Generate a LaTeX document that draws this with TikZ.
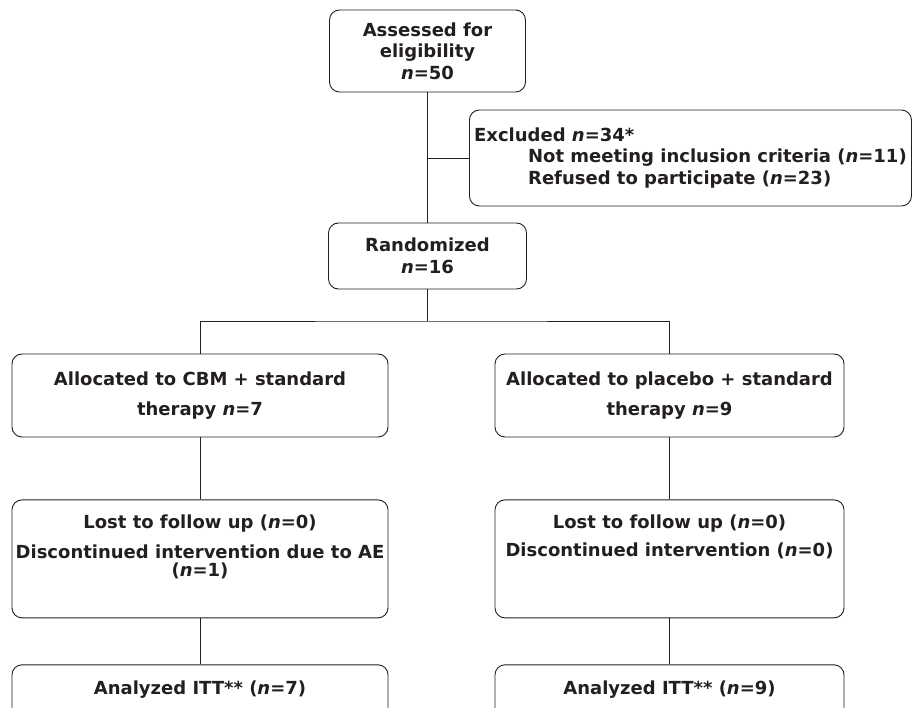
\documentclass[tikz,border=0pt]{standalone}
\usepackage{fontspec}
\setmainfont{DejaVu Sans}
\usepackage{tikz}
\usetikzlibrary{positioning}
\definecolor{inkgray}{RGB}{35,31,32}

\begin{document}
\begin{tikzpicture}[
  x=1pt, y=-1pt,
  node distance=62pt and 0pt,
  flowbox/.style={rectangle, rounded corners=10pt, draw=inkgray, line width=0.9pt, align=center, inner xsep=2pt, text=inkgray, font=\fontsize{18}{21.5}\selectfont\bfseries},
  armbox/.style={flowbox, minimum height=83pt},
  link/.style={draw=inkgray, line width=0.9pt},
]
  \useasboundingbox (0,0) rectangle (913,708);

  \node[flowbox, minimum width=196pt, minimum height=82pt] (assess) at (427.5,51) {Assessed for\\eligibility\\\textit{n}=50};
  \node[flowbox, anchor=west, minimum width=442pt, minimum height=96pt, align=left] (excl) at (469,158) {Excluded \textit{n}=34*\\\hspace*{54pt}Not meeting inclusion criteria (\textit{n}=11)\\\hspace*{54pt}Refused to participate (\textit{n}=23)};
  \node[flowbox, minimum width=198pt, minimum height=66pt] (rand) at (427.5,256) {Randomized\\\textit{n}=16};

  \node[armbox, minimum width=376pt] (cbm) at (200,395.5) {Allocated to CBM + standard\\[9pt]therapy \textit{n}=7};
  \node[armbox, minimum width=349pt] (plac) at (669.5,395.5) {Allocated to placebo + standard\\[9pt]therapy \textit{n}=9};

  \node[flowbox, minimum width=376pt, minimum height=118pt, below=of cbm] (lostcbm) {Lost to follow up (\textit{n}=0)\\[9pt]Discontinued intervention due to AE\\[-4pt](\textit{n}=1)\\[5pt]\mbox{}};
  \node[flowbox, minimum width=349pt, minimum height=118pt, below=of plac] (lostplac) {Lost to follow up (\textit{n}=0)\\[6pt]Discontinued intervention (\textit{n}=0)\\[25pt]\mbox{}};

  \node[flowbox, minimum width=376pt, minimum height=80pt, below=46pt of lostcbm] (ittcbm) {Analyzed ITT** (\textit{n}=7)\\[12pt]\mbox{}};
  \node[flowbox, minimum width=349pt, minimum height=80pt, below=46pt of lostplac] (ittplac) {Analyzed ITT** (\textit{n}=9)\\[12pt]\mbox{}};

  \coordinate (split) at (427.5,321);

  \draw[link] (assess) -- (rand);
  \draw[link] (assess.south |- excl.west) -- (excl.west);
  \draw[link] (rand) -- (split);
  \draw[link] (cbm.north) |- (split) -| (plac.north);
  \draw[link] (cbm) -- (lostcbm);
  \draw[link] (plac) -- (lostplac);
  \draw[link] (lostcbm) -- (ittcbm);
  \draw[link] (lostplac) -- (ittplac);
\end{tikzpicture}
\end{document}
